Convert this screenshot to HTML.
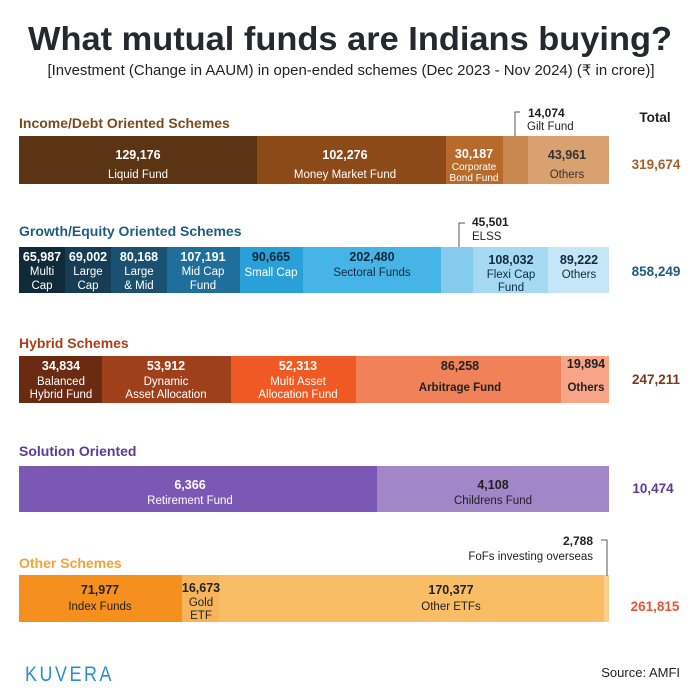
<!DOCTYPE html>
<html><head><meta charset="utf-8"><style>
html,body{margin:0;padding:0;background:#fff;}
svg{display:block;font-family:"Liberation Sans",sans-serif;}
.v{font-weight:bold;font-size:12.5px;text-anchor:middle;}
.n{font-size:11.5px;text-anchor:middle;}
.s{font-size:10px;text-anchor:middle;}
.h{font-weight:bold;font-size:14px;}
.t{font-weight:bold;font-size:13.5px;text-anchor:middle;}
</style></head><body>
<svg width="700" height="700" viewBox="0 0 700 700">
<rect width="700" height="700" fill="#fff"/>
<text x="350" y="50" text-anchor="middle" font-weight="bold" font-size="33" fill="#24292d" textLength="644" lengthAdjust="spacingAndGlyphs">What mutual funds are Indians buying?</text>
<text x="351" y="75" text-anchor="middle" font-size="14.5" fill="#222" textLength="607" lengthAdjust="spacingAndGlyphs">[Investment (Change in AAUM) in open-ended schemes (Dec 2023 - Nov 2024) (₹ in crore)]</text>

<!-- Income -->
<text x="655" y="122" class="t" fill="#222" font-weight="normal">Total</text>
<text x="19" y="128" class="h" fill="#7a4a1e">Income/Debt Oriented Schemes</text>
<rect x="19" y="136" width="238" height="48" fill="#5a3413"/>
<rect x="257" y="136" width="189" height="48" fill="#8b4a17"/>
<rect x="446" y="136" width="57" height="48" fill="#b86a2a"/>
<rect x="503" y="136" width="25" height="48" fill="#c98850"/>
<rect x="528" y="136" width="81" height="48" fill="#d9a16f"/>
<text x="138" y="159" class="v" fill="#fff">129,176</text>
<text x="138" y="178" class="n" fill="#fff">Liquid Fund</text>
<text x="345" y="159" class="v" fill="#fff">102,276</text>
<text x="345" y="178" class="n" fill="#fff">Money Market Fund</text>
<text x="474" y="158" class="v" fill="#fff">30,187</text>
<text x="474" y="170" class="s" fill="#fff">Corporate</text>
<text x="474" y="181" class="s" fill="#fff">Bond Fund</text>
<text x="567" y="159" class="v" fill="#333">43,961</text>
<text x="567" y="178" class="n" fill="#333">Others</text>
<polyline points="520,112 515,112 515,136" fill="none" stroke="#555" stroke-width="1"/>
<text x="528" y="117" font-size="12" font-weight="bold" fill="#222">14,074</text>
<text x="527" y="130" font-size="11.5" fill="#222">Gilt Fund</text>
<text x="656" y="169" class="t" fill="#a0622a">319,674</text>

<!-- Growth -->
<text x="19" y="236" class="h" fill="#1f5c80">Growth/Equity Oriented Schemes</text>
<rect x="19" y="247" width="46" height="46" fill="#0f2a3b"/>
<rect x="65" y="247" width="46" height="46" fill="#163d55"/>
<rect x="111" y="247" width="56" height="46" fill="#1a5070"/>
<rect x="167" y="247" width="73" height="46" fill="#1e6f9c"/>
<rect x="240" y="247" width="63" height="46" fill="#2aa0d8"/>
<rect x="303" y="247" width="138" height="46" fill="#46b4e6"/>
<rect x="441" y="247" width="32" height="46" fill="#84cbee"/>
<rect x="473" y="247" width="75" height="46" fill="#a6d9f3"/>
<rect x="548" y="247" width="61" height="46" fill="#c5e6f7"/>
<text x="42" y="261" class="v" fill="#fff">65,987</text>
<text x="42" y="275" class="n" fill="#fff">Multi</text>
<text x="42" y="289" class="n" fill="#fff">Cap</text>
<text x="88" y="261" class="v" fill="#fff">69,002</text>
<text x="88" y="275" class="n" fill="#fff">Large</text>
<text x="88" y="289" class="n" fill="#fff">Cap</text>
<text x="139" y="261" class="v" fill="#fff">80,168</text>
<text x="139" y="275" class="n" fill="#fff">Large</text>
<text x="139" y="289" class="n" fill="#fff">&amp; Mid</text>
<text x="203" y="261" class="v" fill="#fff">107,191</text>
<text x="203" y="275" class="n" fill="#fff">Mid Cap</text>
<text x="203" y="289" class="n" fill="#fff">Fund</text>
<text x="271" y="261" class="v" fill="#102a3c">90,665</text>
<text x="271" y="276" class="n" fill="#fff">Small Cap</text>
<text x="372" y="261" class="v" fill="#102a3c">202,480</text>
<text x="372" y="276" class="n" fill="#102a3c">Sectoral Funds</text>
<text x="511" y="264" class="v" fill="#102a3c">108,032</text>
<text x="511" y="278" class="n" fill="#102a3c">Flexi Cap</text>
<text x="511" y="291" class="n" fill="#102a3c">Fund</text>
<text x="579" y="264" class="v" fill="#102a3c">89,222</text>
<text x="579" y="278" class="n" fill="#102a3c">Others</text>
<polyline points="465,223 459,223 459,247" fill="none" stroke="#555" stroke-width="1"/>
<text x="472" y="226" font-size="12" font-weight="bold" fill="#222">45,501</text>
<text x="472" y="240" font-size="11.5" fill="#222">ELSS</text>
<text x="656" y="276" class="t" fill="#1f5c80">858,249</text>

<!-- Hybrid -->
<text x="19" y="348" class="h" fill="#a8401a">Hybrid Schemes</text>
<rect x="19" y="356" width="83" height="47" fill="#6b2a12"/>
<rect x="102" y="356" width="129" height="47" fill="#a0401a"/>
<rect x="231" y="356" width="125" height="47" fill="#ef5a24"/>
<rect x="356" y="356" width="205" height="47" fill="#f08158"/>
<rect x="561" y="356" width="48" height="47" fill="#f7a487"/>
<text x="61" y="370" class="v" fill="#fff">34,834</text>
<text x="61" y="385" class="n" fill="#fff">Balanced</text>
<text x="61" y="398" class="n" fill="#fff">Hybrid Fund</text>
<text x="166" y="370" class="v" fill="#fff">53,912</text>
<text x="166" y="385" class="n" fill="#fff">Dynamic</text>
<text x="166" y="398" class="n" fill="#fff">Asset Allocation</text>
<text x="298" y="370" class="v" fill="#fff">52,313</text>
<text x="298" y="385" class="n" fill="#fff">Multi Asset</text>
<text x="298" y="398" class="n" fill="#fff">Allocation Fund</text>
<text x="460" y="370" class="v" fill="#222">86,258</text>
<text x="460" y="391" class="n" font-weight="bold" fill="#222">Arbitrage Fund</text>
<text x="586" y="368" class="v" font-size="12" fill="#222">19,894</text>
<text x="586" y="391" class="n" font-weight="bold" fill="#222">Others</text>
<text x="656" y="384" class="t" fill="#7a3a1a">247,211</text>

<!-- Solution -->
<text x="19" y="456" class="h" fill="#5b3b94">Solution Oriented</text>
<rect x="19" y="466" width="358" height="46" fill="#7b58b3"/>
<rect x="377" y="466" width="232" height="46" fill="#a186c8"/>
<text x="190" y="489" class="v" fill="#fff">6,366</text>
<text x="190" y="504" class="n" fill="#fff">Retirement Fund</text>
<text x="493" y="489" class="v" fill="#222">4,108</text>
<text x="493" y="504" class="n" fill="#222">Childrens Fund</text>
<text x="653" y="493" class="t" fill="#5b3b94">10,474</text>

<!-- Other -->
<text x="19" y="568" class="h" fill="#f5a23a">Other Schemes</text>
<rect x="19" y="575" width="163" height="47" fill="#f5901e"/>
<rect x="182" y="575" width="37" height="47" fill="#f8b45a"/>
<rect x="219" y="575" width="385" height="47" fill="#f9bd66"/>
<rect x="604" y="575" width="5" height="47" fill="#fbd08c"/>
<text x="100" y="594" class="v" fill="#222">71,977</text>
<text x="100" y="610" class="n" fill="#222">Index Funds</text>
<text x="201" y="592" class="v" font-size="12" fill="#222">16,673</text>
<text x="201" y="606" class="n" fill="#222">Gold</text>
<text x="201" y="619" class="n" fill="#222">ETF</text>
<text x="451" y="594" class="v" fill="#222">170,377</text>
<text x="451" y="610" class="n" fill="#222">Other ETFs</text>
<polyline points="601,540 607,540 607,576" fill="none" stroke="#555" stroke-width="1"/>
<text x="593" y="545" font-size="12" font-weight="bold" fill="#222" text-anchor="end">2,788</text>
<text x="593" y="560" font-size="11.5" fill="#222" text-anchor="end">FoFs investing overseas</text>
<text x="655" y="611" class="t" fill="#e05a3a">261,815</text>

<text x="25" y="681" font-size="21" fill="#2a8fc8" letter-spacing="3" textLength="89" lengthAdjust="spacingAndGlyphs">KUVERA</text>
<text x="680" y="677" font-size="13" fill="#222" text-anchor="end">Source: AMFI</text>
</svg>
</body></html>
